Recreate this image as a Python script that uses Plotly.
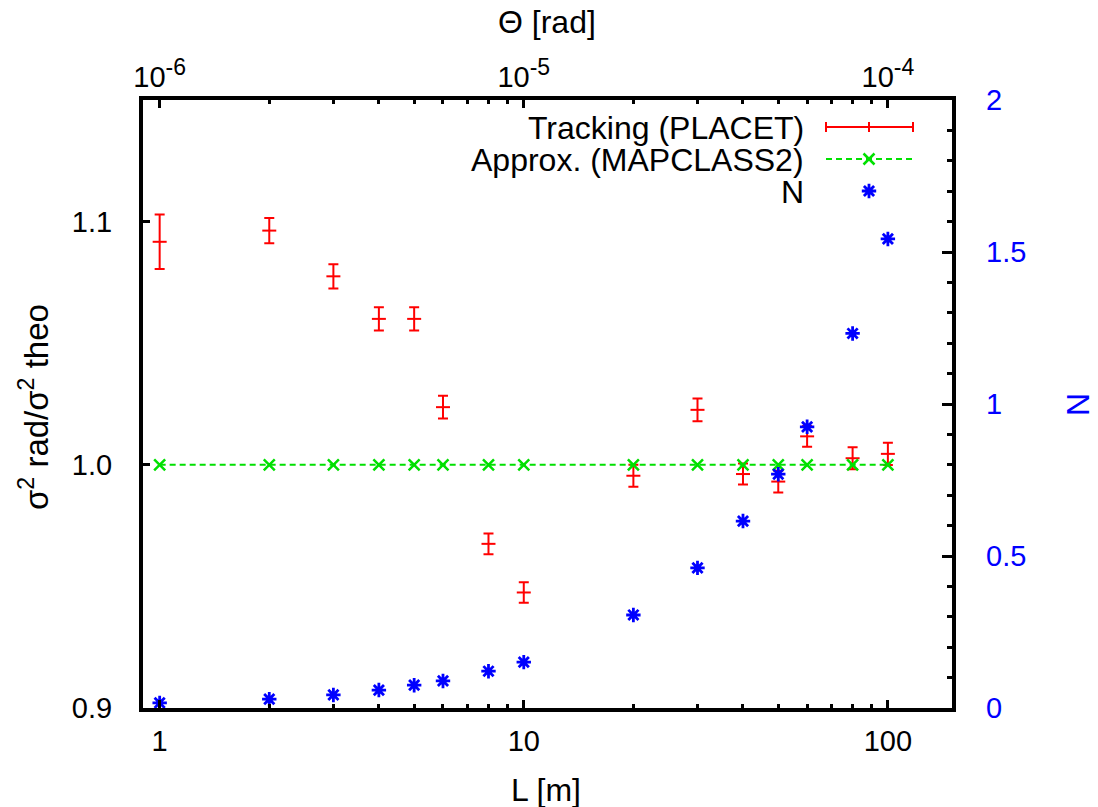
import math
import plotly.graph_objects as go

# ---------------- data ----------------
L_m = [1, 2, 3, 4, 5, 6, 8, 10, 20, 30, 40, 50, 60, 80, 100]
theta_rad = [1e-6, 2e-6, 3e-6, 4e-6, 5e-6, 6e-6, 8e-6, 1e-5, 2e-5, 3e-5, 4e-5, 5e-5, 6e-5, 8e-5, 1e-4]
tracking = [1.0917, 1.0963, 1.0775, 1.0600, 1.0600, 1.0237, 0.9675, 0.9475,
            0.9955, 1.0226, 0.9962, 0.9931, 1.0117, 1.0027, 1.0045]
tracking_err = [0.0112, 0.0052, 0.0050, 0.0048, 0.0048, 0.0047, 0.0043, 0.0042,
                0.0045, 0.0047, 0.0043, 0.0045, 0.0043, 0.0045, 0.0046]
approx = [1.0, 1.0, 1.0, 1.0, 1.0, 1.0, 1.0, 1.0, 1.0, 1.0, 1.0, 1.0, 1.0, 1.0, 1.0]
n_vals = [0.017, 0.029, 0.043, 0.059, 0.075, 0.089, 0.121, 0.151,
          0.306, 0.461, 0.615, 0.769, 0.925, 1.232, 1.543]

x_ticks = [1, 10, 100]
x_ticktext = ["1", "10", "100"]
x_minor = [2, 3, 4, 5, 6, 7, 8, 9, 20, 30, 40, 50, 60, 70, 80, 90]
t_ticks = [1e-6, 1e-5, 1e-4]
t_exponents = ["-6", "-5", "-4"]
t_minor = [2e-6, 3e-6, 4e-6, 5e-6, 6e-6, 7e-6, 8e-6, 9e-6,
           2e-5, 3e-5, 4e-5, 5e-5, 6e-5, 7e-5, 8e-5, 9e-5]
y_ticks = [0.9, 1.0, 1.1]
y_ticktext = ["0.9", "1.0", "1.1"]
n_ticks = [0, 0.5, 1, 1.5, 2]
n_ticktext = ["0", "0.5", "1", "1.5", "2"]
n_minor = [0.1, 0.2, 0.3, 0.4, 0.6, 0.7, 0.8, 0.9, 1.1, 1.2, 1.3, 1.4, 1.6, 1.7, 1.8, 1.9]

labels = ["Tracking (PLACET)", "Approx. (MAPCLASS2)", "N"]

# ---------------- style ----------------
RED = "#ff0000"
GREEN = "#00e000"
BLUE = "#0000ff"
FONT = "Liberation Sans, Arial, Helvetica, sans-serif"
W, H = 1098, 807
# plot area in page pixels: x 143..952, y 100..708
PL, PR, PT, PB = 143, 952, 100, 708
ML, MR, MT, MB = PL, W - PR, PT, H - PB
PW, PH = PR - PL, PB - PT


def px(x):
    return (x - PL) / PW


def py(y):
    return (PB - y) / PH


t_ticktext = ["10<sup><span style='font-size:23px'>%s</span></sup>" % e for e in t_exponents]

fig = go.Figure()

fig.add_trace(go.Scatter(
    x=L_m, y=tracking, mode="markers", name=labels[0],
    marker=dict(symbol="line-ew", size=10, color=RED, line=dict(color=RED, width=2)),
    error_y=dict(type="data", array=tracking_err, color=RED, thickness=2, width=5),
    xaxis="x", yaxis="y", showlegend=False,
))
fig.add_trace(go.Scatter(
    x=L_m, y=approx, mode="lines+markers", name=labels[1],
    line=dict(color=GREEN, width=2, dash="6px,4px"),
    marker=dict(symbol="x-thin", size=11, color=GREEN, line=dict(color=GREEN, width=2.5)),
    xaxis="x", yaxis="y", showlegend=False,
))
fig.add_trace(go.Scatter(
    x=L_m, y=n_vals, mode="markers", name=labels[2],
    marker=dict(symbol="asterisk", size=12, color=BLUE, line=dict(color=BLUE, width=2.8)),
    xaxis="x", yaxis="y2", showlegend=False,
))
# invisible trace so the top (Theta) axis is drawn
fig.add_trace(go.Scatter(
    x=theta_rad, y=approx, mode="markers", marker=dict(opacity=0),
    hoverinfo="skip", xaxis="x2", yaxis="y", showlegend=False,
))

# legend sample markers (in a hidden 0..1 overlay frame)
fig.add_trace(go.Scatter(
    x=[px(869)], y=[py(159)], mode="markers",
    marker=dict(symbol="x-thin", size=11, color=GREEN, line=dict(color=GREEN, width=2.5)),
    xaxis="x3", yaxis="y3", hoverinfo="skip", showlegend=False, cliponaxis=False,
))
fig.add_trace(go.Scatter(
    x=[px(869)], y=[py(191)], mode="markers",
    marker=dict(symbol="asterisk", size=12, color=BLUE, line=dict(color=BLUE, width=2.8)),
    xaxis="x3", yaxis="y3", hoverinfo="skip", showlegend=False, cliponaxis=False,
))

tickfont = dict(family=FONT, size=29, color="black")

fig.update_layout(
    width=W, height=H,
    margin=dict(l=ML, r=MR, t=MT, b=MB, pad=0),
    paper_bgcolor="white", plot_bgcolor="white",
    font=dict(family=FONT, size=29, color="black"),
    showlegend=False,
    xaxis=dict(
        type="log", range=[math.log10(0.9), math.log10(150)],
        tickmode="array", tickvals=x_ticks, ticktext=x_ticktext,
        ticks="inside", ticklen=8, tickwidth=3, tickcolor="black",
        minor=dict(tickmode="array", tickvals=x_minor, ticks="inside", ticklen=4,
                   tickwidth=3, tickcolor="black", showgrid=False),
        showline=True, linewidth=4, linecolor="black", mirror=True,
        showgrid=False, zeroline=False, tickfont=tickfont, ticklabelstandoff=4,
    ),
    xaxis2=dict(
        type="log", range=[math.log10(0.9e-6), math.log10(150e-6)],
        overlaying="x", side="top", anchor="y",
        tickmode="array", tickvals=t_ticks, ticktext=t_ticktext,
        ticks="inside", ticklen=8, tickwidth=3, tickcolor="black",
        minor=dict(tickmode="array", tickvals=t_minor, ticks="inside", ticklen=4,
                   tickwidth=3, tickcolor="black", showgrid=False),
        showline=False, showgrid=False, zeroline=False, tickfont=tickfont,
        ticklabelstandoff=6,
    ),
    yaxis=dict(
        range=[0.9, 1.15],
        tickmode="array", tickvals=y_ticks, ticktext=y_ticktext,
        ticks="inside", ticklen=7, tickwidth=3, tickcolor="black",
        showline=True, linewidth=4, linecolor="black", mirror=True,
        showgrid=False, zeroline=False, tickfont=tickfont, ticklabelstandoff=21,
    ),
    yaxis2=dict(
        range=[0, 2], overlaying="y", side="right", anchor="x",
        tickmode="array", tickvals=n_ticks, ticktext=n_ticktext,
        ticks="inside", ticklen=10, tickwidth=3, tickcolor="black",
        minor=dict(tickmode="array", tickvals=n_minor, ticks="inside", ticklen=5,
                   tickwidth=3, tickcolor="black", showgrid=False),
        showline=False, showgrid=False, zeroline=False,
        tickfont=dict(family=FONT, size=29, color=BLUE), ticklabelstandoff=33,
    ),
    xaxis3=dict(overlaying="x", range=[0, 1], visible=False),
    yaxis3=dict(overlaying="y", range=[0, 1], visible=False),
)

ann = []
ann.append(dict(text="Θ [rad]", x=px(547), y=py(22), xref="paper", yref="paper",
                showarrow=False, xanchor="center", yanchor="middle",
                font=dict(family=FONT, size=32, color="black")))
ann.append(dict(text="L [m]", x=px(546), y=py(790), xref="paper", yref="paper",
                showarrow=False, xanchor="center", yanchor="middle",
                font=dict(family=FONT, size=32, color="black")))
ann.append(dict(text="σ<sup>2</sup> rad/σ<sup>2</sup> theo", x=px(34), y=py(407),
                xref="paper", yref="paper", showarrow=False, textangle=-90,
                xanchor="center", yanchor="middle",
                font=dict(family=FONT, size=33, color="black")))
ann.append(dict(text="N", x=px(1078), y=py(405), xref="paper", yref="paper",
                showarrow=False, textangle=-90, xanchor="center", yanchor="middle",
                font=dict(family=FONT, size=32, color=BLUE)))
for lab, yy in zip(labels, [128, 160, 192]):
    ann.append(dict(text=lab, x=px(806), y=py(yy), xref="paper", yref="paper",
                    showarrow=False, xanchor="right", yanchor="middle",
                    font=dict(family=FONT, size=32, color="black")))
fig.update_layout(annotations=ann)

shapes = []
# Tracking legend sample: horizontal error bar
shapes.append(dict(type="line", xref="paper", yref="paper", x0=px(826), x1=px(913),
                   y0=py(127), y1=py(127), line=dict(color=RED, width=2)))
for xx in [826, 869, 913]:
    shapes.append(dict(type="line", xref="paper", yref="paper", x0=px(xx), x1=px(xx),
                       y0=py(122), y1=py(132), line=dict(color=RED, width=2)))
# Approx legend sample: dashed line
shapes.append(dict(type="line", xref="paper", yref="paper", x0=px(826), x1=px(913),
                   y0=py(159), y1=py(159), line=dict(color=GREEN, width=2, dash="6px,4px")))
fig.update_layout(shapes=shapes)

# remove the default 8px page margin so the 1098x807 figure fills the window exactly
fig.write_html("out.html", config={"displayModeBar": False},
               post_script="document.body.style.margin='0px';document.body.style.overflow='hidden';")
